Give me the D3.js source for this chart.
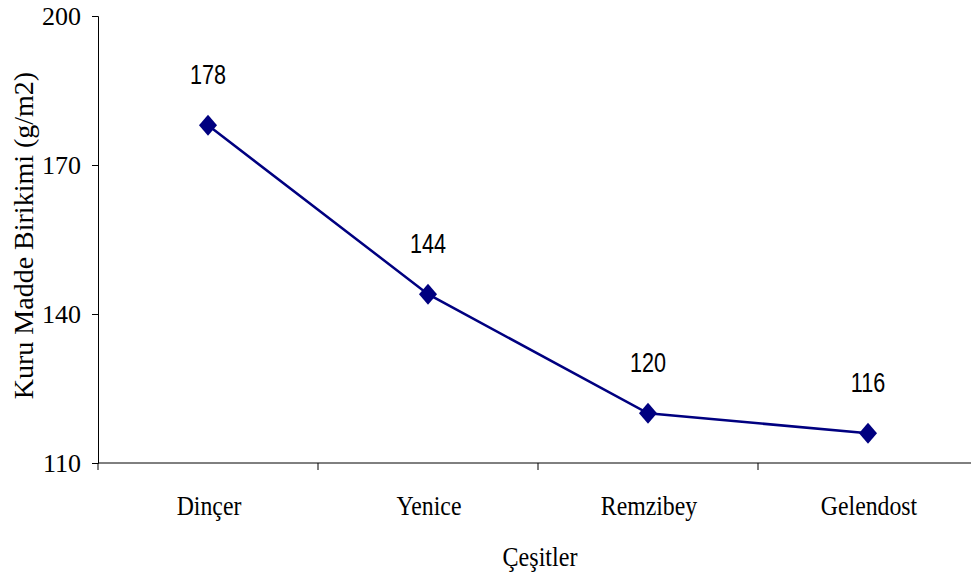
<!DOCTYPE html>
<html>
<head>
<meta charset="utf-8">
<script src="https://cdn.jsdelivr.net/npm/d3@7/dist/d3.min.js"></script>
<style>
  html, body { margin: 0; padding: 0; background: #fff; }
  svg { display: block; }
  .serif { font-family: "Liberation Serif", "Times New Roman", Times, serif; }
  .sans { font-family: "Liberation Sans", Arial, Helvetica, sans-serif; }
</style>
</head>
<body>
<script>
// Kuru madde birikimi by variety
const categories = ["Dinçer", "Yenice", "Remzibey", "Gelendost"];
const values = [178, 144, 120, 116];
const yTicks = [110, 140, 170, 200];

const W = 971, H = 577;
const margin = { left: 98, top: 16, right: -7, bottom: 114 };

const svg = d3.select("body").append("svg")
  .attr("width", W).attr("height", H);

const x = d3.scaleBand()
  .domain(categories)
  .range([margin.left, W - margin.right])
  .paddingInner(0).paddingOuter(0);

const y = d3.scaleLinear()
  .domain([110, 200])
  .range([H - margin.bottom, margin.top]);

// Y axis
const yAxis = svg.append("g")
  .attr("transform", `translate(${margin.left},0)`)
  .call(d3.axisLeft(y).tickValues(yTicks).tickSize(6).tickPadding(11).tickFormat(d3.format("d")));
yAxis.attr("font-family", null).attr("font-size", null);
yAxis.selectAll("text")
  .attr("class", "serif")
  .style("font-size", "26px").attr("fill", "#000").attr("dy", "0.34em");
yAxis.select(".domain").attr("stroke", "#000");
yAxis.selectAll(".tick line").attr("stroke", "#000");

// X axis: ticks at band boundaries, labels at band centres
const xAxisG = svg.append("g")
  .attr("transform", `translate(0,${y(110)})`);
xAxisG.append("line")
  .attr("x1", margin.left).attr("x2", W - margin.right)
  .attr("stroke", "#000");
const boundaries = categories.map(c => x(c)).concat([x(categories[categories.length - 1]) + x.bandwidth()]);
xAxisG.selectAll("line.tick")
  .data(boundaries).enter().append("line")
  .attr("class", "tick")
  .attr("x1", d => d).attr("x2", d => d)
  .attr("y1", 0).attr("y2", 7)
  .attr("stroke", "#000");
xAxisG.selectAll("text")
  .data(categories).enter().append("text")
  .attr("class", "serif")
  .attr("transform", d => `translate(${x(d) + x.bandwidth() / 2 + 1},52) scale(0.85,1)`)
  .attr("text-anchor", "middle")
  .style("font-size", "28px")
  .attr("fill", "#000")
  .text(d => d);

// Axis titles
svg.append("text")
  .attr("class", "serif")
  .attr("transform", `translate(${(margin.left + W - margin.right) / 2 + 2},566) scale(0.86,1)`)
  .attr("text-anchor", "middle")
  .style("font-size", "28px")
  .text("Çeşitler");

svg.append("text")
  .attr("class", "serif")
  .attr("transform", `translate(33,${(y(110) + y(200)) / 2 - 4}) rotate(-90)`)
  .attr("text-anchor", "middle")
  .style("font-size", "28px")
  .text("Kuru Madde Birikimi (g/m2)");

// Series line
const pts = categories.map((c, i) => ({ c, v: values[i] }));
const cx = d => x(d.c) + x.bandwidth() / 2;

svg.append("path")
  .datum(pts)
  .attr("fill", "none")
  .attr("stroke", "#000080")
  .attr("stroke-width", 2.5)
  .attr("d", d3.line().x(cx).y(d => y(d.v)));

// Diamond markers
svg.selectAll("path.marker")
  .data(pts).enter().append("path")
  .attr("class", "marker")
  .attr("transform", d => `translate(${cx(d)},${y(d.v)})`)
  .attr("d", "M0,-10.5L9,0L0,10.5L-9,0Z")
  .attr("fill", "#000080");

// Value labels
svg.selectAll("text.val")
  .data(pts).enter().append("text")
  .attr("class", "val sans")
  .attr("transform", d => `translate(${cx(d)},${y(d.v) - 41}) scale(0.8,1)`)
  .attr("text-anchor", "middle")
  .style("font-size", "27px")
  .attr("fill", "#000")
  .text(d => d.v);
</script>
</body>
</html>
